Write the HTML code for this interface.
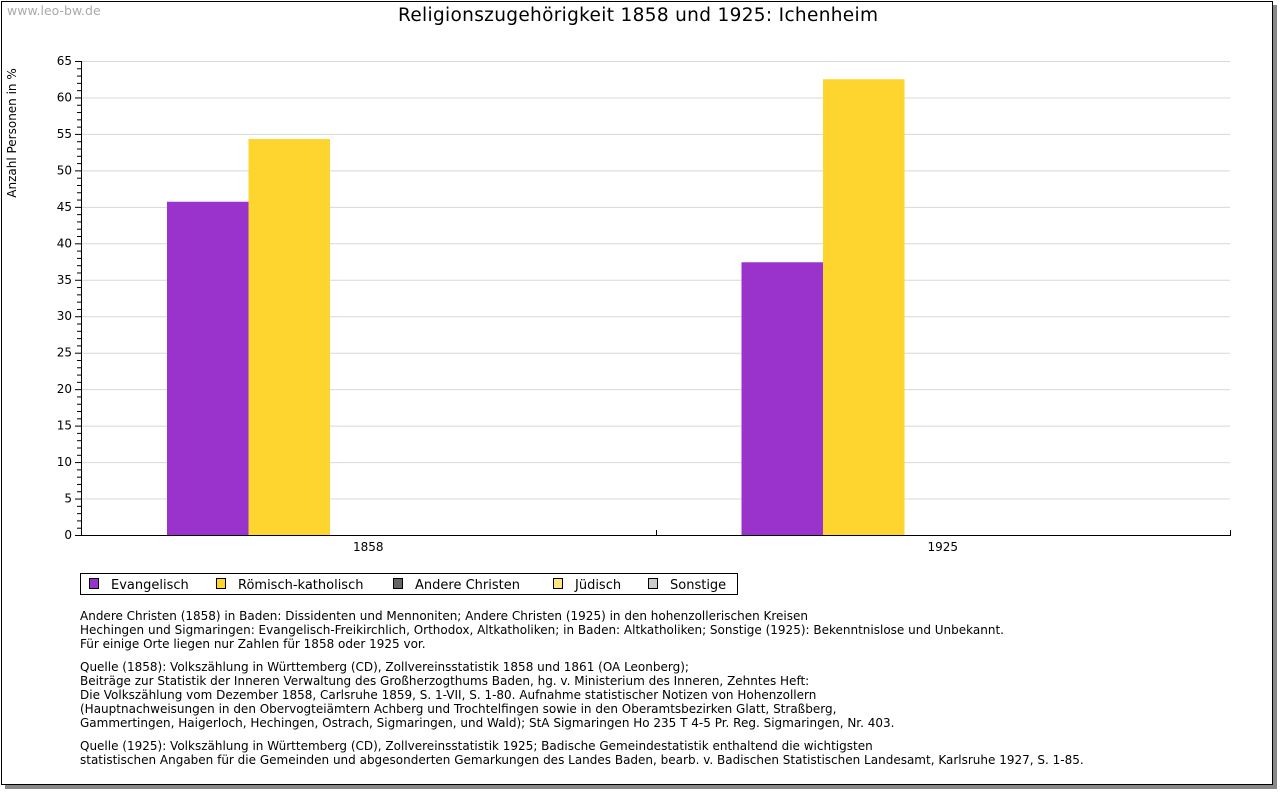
<!DOCTYPE html>
<html><head><meta charset="utf-8"><style>
body{margin:0;background:#fff;width:1280px;height:791px;overflow:hidden;font-family:"DejaVu Sans","Liberation Sans",sans-serif}
svg text{font-family:"DejaVu Sans","Liberation Sans",sans-serif}
</style></head><body>
<svg id="c" width="1280" height="791" xmlns="http://www.w3.org/2000/svg">
<rect x="5" y="5" width="1272" height="784" fill="#888"/>
<rect x="1.5" y="1.5" width="1271" height="783" fill="#fff" stroke="#000"/>
<text x="7" y="15" font-size="12.5" fill="#aaa" font-family="Liberation Sans">www.leo-bw.de</text>
<text x="638" y="21" font-size="18.5" text-anchor="middle" textLength="480">Religionszugehörigkeit 1858 und 1925: Ichenheim</text>
<text transform="translate(16,133) rotate(-90)" font-size="12" text-anchor="middle">Anzahl Personen in %</text>
<g id="grid"></g><g id="bars"></g><g id="axes"></g>
<g>
<rect x="80.5" y="573.5" width="657" height="21" fill="#fff" stroke="#000"/>
<g id="legend"></g>
</g>
<g font-size="12">
<text x="80" y="620">Andere Christen (1858) in Baden: Dissidenten und Mennoniten; Andere Christen (1925) in den hohenzollerischen Kreisen</text>
<text x="80" y="634">Hechingen und Sigmaringen: Evangelisch-Freikirchlich, Orthodox, Altkatholiken; in Baden: Altkatholiken; Sonstige (1925): Bekenntnislose und Unbekannt.</text>
<text x="80" y="648">Für einige Orte liegen nur Zahlen für 1858 oder 1925 vor.</text>
<text x="80" y="671">Quelle (1858): Volkszählung in Württemberg (CD), Zollvereinsstatistik 1858 und 1861 (OA Leonberg);</text>
<text x="80" y="685">Beiträge zur Statistik der Inneren Verwaltung des Großherzogthums Baden, hg. v. Ministerium des Inneren, Zehntes Heft:</text>
<text x="80" y="699">Die Volkszählung vom Dezember 1858, Carlsruhe 1859, S. 1-VII, S. 1-80. Aufnahme statistischer Notizen von Hohenzollern</text>
<text x="80" y="713">(Hauptnachweisungen in den Obervogteiämtern Achberg und Trochtelfingen sowie in den Oberamtsbezirken Glatt, Straßberg,</text>
<text x="80" y="727">Gammertingen, Haigerloch, Hechingen, Ostrach, Sigmaringen, und Wald); StA Sigmaringen Ho 235 T 4-5 Pr. Reg. Sigmaringen, Nr. 403.</text>
<text x="80" y="750">Quelle (1925): Volkszählung in Württemberg (CD), Zollvereinsstatistik 1925; Badische Gemeindestatistik enthaltend die wichtigsten</text>
<text x="80" y="764">statistischen Angaben für die Gemeinden und abgesonderten Gemarkungen des Landes Baden, bearb. v. Badischen Statistischen Landesamt, Karlsruhe 1927, S. 1-85.</text>
</g>
</svg>
<script>
const categories = ["1858", "1925"];
const seriesNames = ["Evangelisch", "Römisch-katholisch", "Andere Christen", "Jüdisch", "Sonstige"];
const seriesColors = ["#9933cc", "#fdd52e", "#666666", "#ffe680", "#cccccc"];
const evangelisch = [45.7, 37.4];
const katholisch = [54.3, 62.5];
const andere = [0, 0];
const juedisch = [0, 0];
const sonstige = [0, 0];
const yTicks = [0,5,10,15,20,25,30,35,40,45,50,55,60,65];

const NS = "http://www.w3.org/2000/svg";
const X0 = 81, X1 = 1230, Y0 = 535, Y1 = 61, YMAX = 65;
const y = v => Y0 - (v / YMAX) * (Y0 - Y1);
const groupW = (X1 - X0) / categories.length;
const barW = 81.5;
const x = (ci, si) => X0 + ci * groupW + 86 + si * barW;
function mk(tag, attrs, parent){const e=document.createElementNS(NS,tag);for(const k in attrs)e.setAttribute(k,attrs[k]);parent.appendChild(e);return e;}
const grid = document.getElementById('grid'), bars = document.getElementById('bars'), axes = document.getElementById('axes'), leg = document.getElementById('legend');
yTicks.forEach(t => {
  if (t > 0) { const l = mk('line',{x1:X0,x2:X1,y1:y(t)+0.5,y2:y(t)+0.5,stroke:'#d8d8d8'},grid);
      }
  const tx = mk('text',{x:72,y:y(t)+4,'font-size':12,'text-anchor':'end'},axes);
  tx.textContent = t;
   
});
for (let v = 0; v <= YMAX; v++) {
  const len = v % 5 === 0 ? 6 : 4;
  const l = mk('line',{x1:X0-len,x2:X0,y1:y(v)+0.5,y2:y(v)+0.5,stroke:'#000'},axes);
   
}
const all = [evangelisch, katholisch, andere, juedisch, sonstige];
categories.forEach((c, ci) => {
  all.forEach((s, si) => {
    if (s[ci] <= 0) return;
    const r = mk('rect',{x:x(ci,si),y:y(s[ci]),width:barW,height:Y0-y(s[ci]),fill:seriesColors[si]},bars);
     
  });
  const t = mk('text',{x:X0+ci*groupW+groupW/2,y:551,'font-size':12,'text-anchor':'middle'},axes);
  t.textContent = c;
   
});
mk('line',{x1:X0+0.5,x2:X0+0.5,y1:Y1,y2:Y0,stroke:'#000'},axes);
mk('line',{x1:X0,x2:X1+1,y1:Y0+0.5,y2:Y0+0.5,stroke:'#000'},axes);
for (let i = 1; i <= categories.length; i++) {
  const tx = Math.round(X0 + i*groupW) + 0.5;
  const l = mk('line',{x1:tx,x2:tx,y1:Y0-5,y2:Y0,stroke:'#000'},axes);
   
}
const legX = [89, 216, 393, 553, 648];
seriesNames.forEach((n, i) => {
  const r = mk('rect',{x:legX[i]+0.5,y:578.5,width:9,height:10,fill:seriesColors[i],stroke:'#000'},leg);
   
  const t = mk('text',{x:legX[i]+22,y:589,'font-size':13},leg);
  t.textContent = n;
   
});
</script>
</body></html>
